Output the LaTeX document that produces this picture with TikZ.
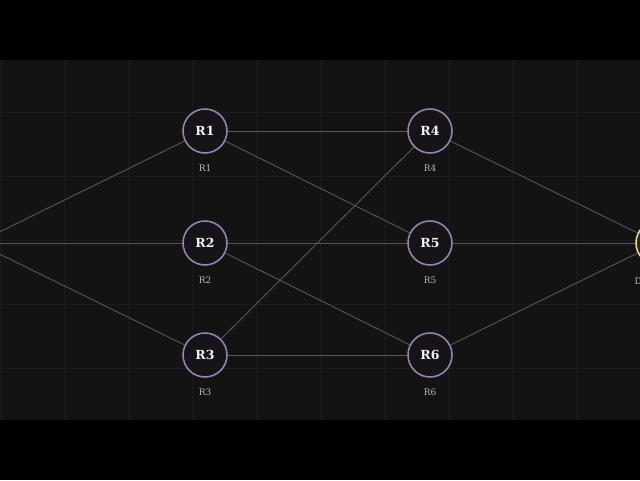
\documentclass[tikz,border=0pt]{standalone}
\usepackage{fontspec}
\setmainfont{DejaVu Serif}
\usetikzlibrary{calc}
\definecolor{bgblack}{HTML}{000000}
\definecolor{panel}{HTML}{131313}
\definecolor{gridc}{HTML}{1B1B1B}
\definecolor{edgec}{HTML}{575757}
\definecolor{ringc}{HTML}{9682AE}
\definecolor{nodefill}{HTML}{161418}
\definecolor{goldring}{HTML}{E2D89A}
\definecolor{goldfill}{HTML}{2A2618}
\definecolor{labc}{HTML}{B8B8B8}
\definecolor{txtc}{HTML}{F2F2F2}
\tikzset{
  router/.style={circle, draw=ringc, line width=1.6pt, fill=nodefill, minimum size=44pt, inner sep=0pt,
    font=\fontsize{12.5}{14}\selectfont\bfseries, text=txtc},
  endpt/.style={circle, draw=goldring, line width=1.6pt, fill=goldfill, minimum size=44pt, inner sep=0pt},
  sublabel/.style={font=\fontsize{9}{11}\selectfont, text=labc},
  link/.style={draw=edgec, line width=0.9pt},
  gridline/.style={draw=gridc, line width=1pt}
}
\begin{document}
\begin{tikzpicture}[x=1pt,y=-1pt]
\useasboundingbox (0,0) rectangle (640,480);
\fill[bgblack] (0,0) rectangle (640,480);
\fill[panel] (0,60) rectangle (640,420);
\begin{scope}
\clip (0,60) rectangle (640,420);
\foreach \gx in {0,64,...,640} \draw[gridline] (\gx,60) -- (\gx,420);
\foreach \gy in {112,176,240,304,368} \draw[gridline] (0,\gy) -- (640,\gy);
\node[endpt] (S) at (-23,243) {};
\node[endpt] (D) at (658,243) {};
\node[sublabel] (Dlab) at (661,281) {Destination};
\node[router] (R1) at (205,131) {R1};
\node[router] (R2) at (205,243) {R2};
\node[router] (R3) at (205,355) {R3};
\node[router] (R4) at (430,131) {R4};
\node[router] (R5) at (430,243) {R5};
\node[router] (R6) at (430,355) {R6};
\path[link] (S) -- (R1);
\path[link] (S) -- (R2);
\path[link] (S) -- (R3);
\path[link] (R1) -- (R4);
\path[link] (R1) -- (R5);
\path[link] (R2) -- (R5);
\path[link] (R2) -- (R6);
\path[link] (R3) -- (R4);
\path[link] (R3) -- (R6);
\path[link] (R4) -- (D);
\path[link] (R5) -- (D);
\path[link] (R6) -- (D);
\end{scope}
\foreach \n in {1,...,6} \node[sublabel] (L\n) at ($(R\n)+(0,37)$) {R\n};
\end{tikzpicture}
\end{document}
